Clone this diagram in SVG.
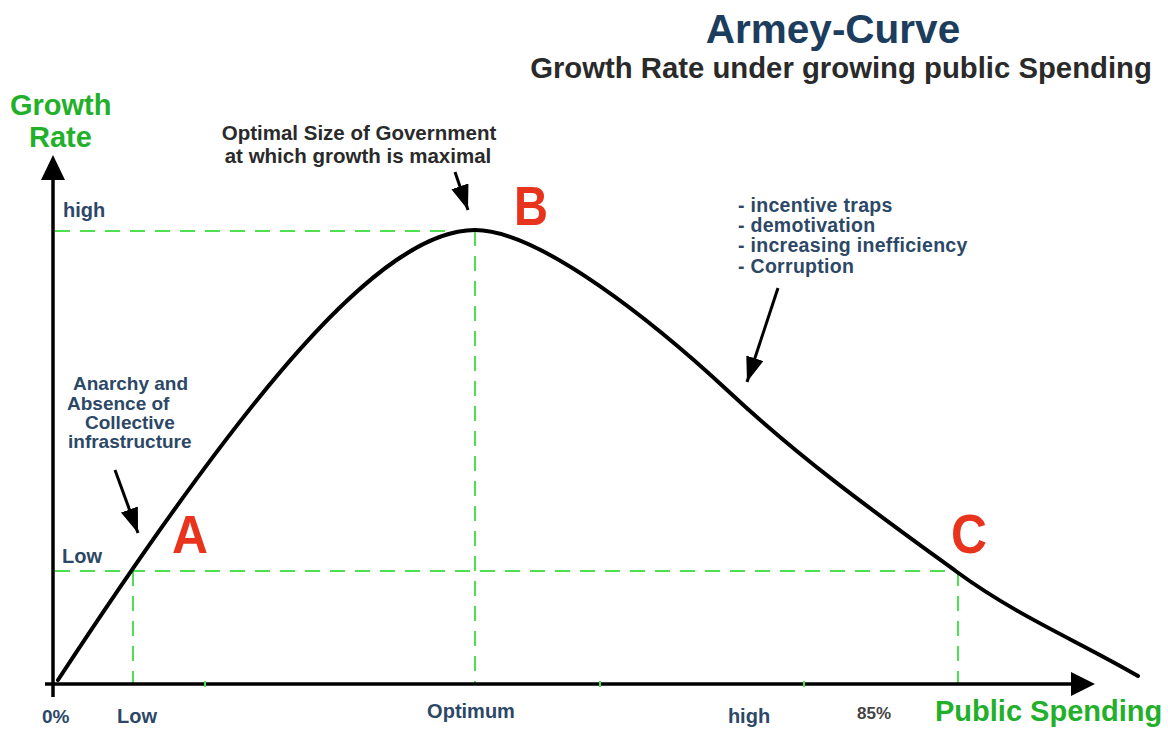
<svg xmlns="http://www.w3.org/2000/svg" width="1168" height="729" viewBox="0 0 1168 729">
<style>
  .dash { stroke: #4ee04e; stroke-width: 2; stroke-dasharray: 15 10; fill: none; }
  .tick { stroke: #4ee04e; stroke-width: 2; }
  .axis { stroke: #000; stroke-width: 3.5; fill: none; }
  .curve { stroke: #000; stroke-width: 4; fill: none; stroke-linecap: round; }
  .ann { stroke: #000; stroke-width: 3; fill: none; }
  .t { font-family: "Liberation Sans", Arial, sans-serif; font-weight: bold; }
  .navy { fill: #2c4866; }
  .dark { fill: #2a2a2a; }
  .green { fill: #22b02a; }
  .red { fill: #e8341c; }
</style>
<defs>
  <marker id="ah" markerUnits="userSpaceOnUse" markerWidth="28" markerHeight="20" refX="25" refY="9" orient="auto">
    <path d="M0,0 L25,9 L0,18 Z" fill="#000"/>
  </marker>
</defs>
<rect width="1168" height="729" fill="#fff"/>

<g id="title">
  <text class="t" x="833" y="43" font-size="40.5" text-anchor="middle" fill="#1c3d5e">Armey-Curve</text>
  <text class="t dark" x="841" y="78" font-size="29.3" text-anchor="middle">Growth Rate under growing public Spending</text>
</g>

<g id="guides">
  <line class="dash" x1="55" y1="231" x2="475" y2="231"/>
  <line class="dash" x1="475" y1="231" x2="475" y2="684"/>
  <line class="dash" x1="55" y1="571" x2="958" y2="571"/>
  <line class="dash" x1="133" y1="571" x2="133" y2="684"/>
  <line class="dash" x1="958" y1="571" x2="958" y2="684"/>
</g>

<g id="axes">
  <line class="axis" x1="53" y1="697" x2="53" y2="178"/>
  <path d="M41,180 L53,155 L65,180 Z" fill="#000"/>
  <line class="axis" x1="45" y1="684" x2="1073" y2="684"/>
  <path d="M1071,672 L1095,684 L1071,696 Z" fill="#000"/>
  <line class="tick" x1="205" y1="681" x2="205" y2="687"/>
  <line class="tick" x1="600" y1="681" x2="600" y2="687"/>
  <line class="tick" x1="804" y1="681" x2="804" y2="687"/>
</g>

<g id="curve">
  <path class="curve" d="M58,680 C245,395 380,230 475,230 C540,230 657,325 727,390 C804,462 880,516 957,572 C1017,616 1078,641 1138,676"/>
</g>

<g id="connectors">
  <line class="ann" x1="455" y1="172" x2="468" y2="210" marker-end="url(#ah)"/>
  <line class="ann" x1="115" y1="470" x2="138" y2="533" marker-end="url(#ah)"/>
  <line class="ann" x1="778" y1="288" x2="747" y2="382" marker-end="url(#ah)"/>
</g>

<g id="axis-labels">
  <text class="t green" x="10" y="115" font-size="29">Growth</text>
  <text class="t green" x="29" y="147" font-size="29">Rate</text>
  <text class="t green" x="935" y="721" font-size="29">Public Spending</text>
  <text class="t navy" x="63" y="217" font-size="20">high</text>
  <text class="t navy" x="62" y="563" font-size="20">Low</text>
  <text class="t navy" x="42" y="723" font-size="19">0%</text>
  <text class="t navy" x="137" y="723" font-size="20" text-anchor="middle">Low</text>
  <text class="t navy" x="471" y="718" font-size="20" text-anchor="middle">Optimum</text>
  <text class="t navy" x="749" y="723" font-size="20" text-anchor="middle">high</text>
  <text class="t" x="874" y="719" font-size="17" text-anchor="middle" fill="#444">85%</text>
</g>

<g id="point-A">
  <text class="t red" x="172" y="553" font-size="54" textLength="36" lengthAdjust="spacingAndGlyphs">A</text>
</g>
<g id="point-B">
  <text class="t red" x="514" y="225" font-size="56" textLength="34" lengthAdjust="spacingAndGlyphs">B</text>
</g>
<g id="point-C">
  <text class="t red" x="951" y="553" font-size="56" textLength="36" lengthAdjust="spacingAndGlyphs">C</text>
</g>

<g id="note-optimal">
  <text class="t dark" x="359" y="140" font-size="20.5" text-anchor="middle">Optimal Size of Government</text>
  <text class="t dark" x="358" y="163" font-size="20.5" text-anchor="middle">at which growth is maximal</text>
</g>

<g id="note-anarchy">
  <text class="t navy" x="73" y="390" font-size="19">Anarchy and</text>
  <text class="t navy" x="67" y="410" font-size="19">Absence of</text>
  <text class="t navy" x="85" y="429" font-size="19">Collective</text>
  <text class="t navy" x="68" y="448" font-size="19">infrastructure</text>
</g>

<g id="note-inefficiency">
  <text class="t navy" x="738" y="212" font-size="19.5" letter-spacing="0.3">- incentive traps</text>
  <text class="t navy" x="738" y="232" font-size="19.5" letter-spacing="0.3">- demotivation</text>
  <text class="t navy" x="738" y="252" font-size="19.5" letter-spacing="0.3">- increasing inefficiency</text>
  <text class="t navy" x="738" y="273" font-size="19.5" letter-spacing="0.3">- Corruption</text>
</g>
</svg>
